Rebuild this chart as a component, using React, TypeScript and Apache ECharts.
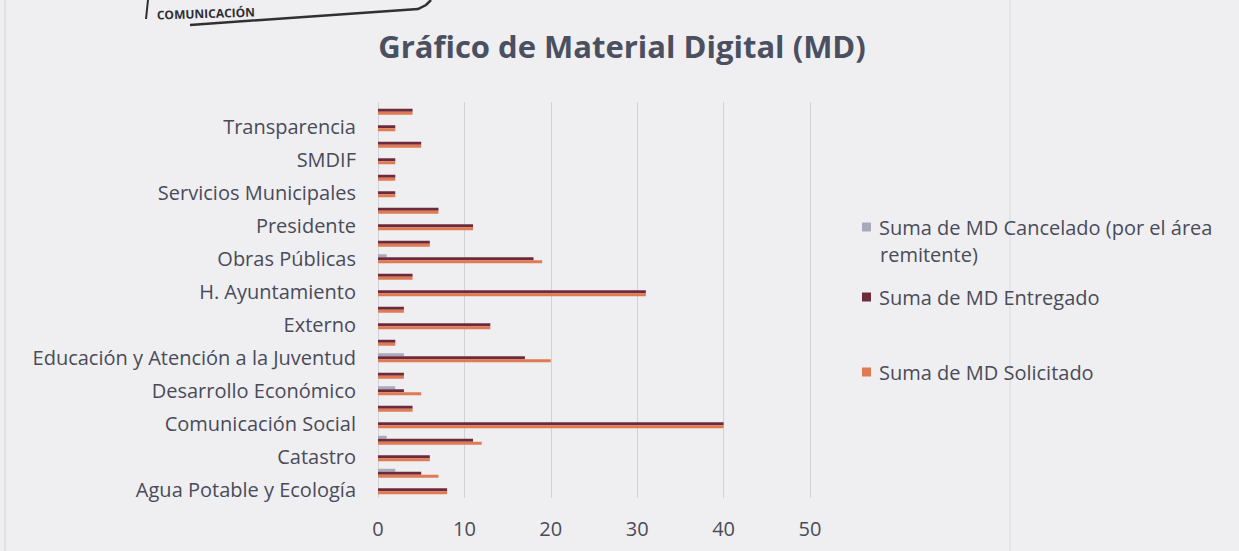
import React, { useEffect, useRef } from "react";
import * as echarts from "echarts";

const categories = [
  "Agua Potable y Ecología",
  "Atención Ciudadana",
  "Catastro",
  "Comercio",
  "Comunicación Social",
  "Contraloría",
  "Desarrollo Económico",
  "Desarrollo Social",
  "Educación y Atención a la Juventud",
  "Eventos Especiales",
  "Externo",
  "Gobierno",
  "H. Ayuntamiento",
  "Instituto de la Mujer",
  "Obras Públicas",
  "Planeación",
  "Presidente",
  "Seguridad Pública",
  "Servicios Municipales",
  "Sindicatura",
  "SMDIF",
  "Tesorería",
  "Transparencia",
  "Turismo",
];
const cancelado = [0, 2, 0, 1, 0, 0, 2, 0, 3, 0, 0, 0, 0, 0, 1, 0, 0, 0, 0, 0, 0, 0, 0, 0];
const entregado = [8, 5, 6, 11, 40, 4, 3, 3, 17, 2, 13, 3, 31, 4, 18, 6, 11, 7, 2, 2, 2, 5, 2, 4];
const solicitado = [8, 7, 6, 12, 40, 4, 5, 3, 20, 2, 13, 3, 31, 4, 19, 6, 11, 7, 2, 2, 2, 5, 2, 4];
const xTicks = { min: 0, max: 50, interval: 10 };

const seriesNames = [
  "Suma de MD Cancelado (por el área remitente)",
  "Suma de MD Entregado",
  "Suma de MD Solicitado",
];
const seriesColors = ["#a8aabb", "#6c2a3b", "#e07a52"];

const FONT = "'Open Sans', sans-serif";
const TXT = "#4a4b59";

export default function App() {
  const ref = useRef<HTMLDivElement>(null);
  useEffect(() => {
    if (!ref.current) return;
    const chart = echarts.init(ref.current, undefined, { renderer: "svg" });
    const dataSets = [cancelado, entregado, solicitado];
    const legendTops = [212, 282, 357];
    chart.setOption({
      animation: false,
      backgroundColor: "#efeff1",
      title: {
        text: "Gráfico de Material Digital (MD)",
        left: 617,
        textAlign: "center",
        top: 25,
        textStyle: { fontFamily: FONT, fontSize: 31, fontWeight: "bold", color: "#4b5061" },
      },
      legend: seriesNames.map((n, i) => ({
        data: [n],
        left: 857,
        top: legendTops[i],
        orient: "vertical",
        itemWidth: 9,
        itemHeight: 9,
        icon: "rect",
        formatter: (name: string) =>
          name.startsWith("Suma de MD Cancelado") ? "Suma de MD Cancelado (por el área" : name,
        textStyle: { fontFamily: FONT, fontSize: 20, color: TXT, padding: [0, 0, 0, 3] },
      })),
      grid: { left: 378, right: 429, top: 102, height: 396, containLabel: false },
      xAxis: {
        type: "value",
        min: xTicks.min,
        max: xTicks.max,
        interval: xTicks.interval,
        axisLine: { show: false },
        axisTick: { show: false },
        axisLabel: { fontFamily: FONT, fontSize: 20, color: TXT, margin: 20 },
        splitLine: { lineStyle: { color: "#d2d2d6", width: 1 } },
      },
      yAxis: {
        type: "category",
        data: categories,
        axisLine: { show: false },
        axisTick: { show: false },
        axisLabel: { interval: 1, fontFamily: FONT, fontSize: 20, color: TXT, margin: 22 },
        splitLine: { show: false },
      },
      series: seriesNames.map((n, i) => ({
        name: n,
        type: "bar",
        data: dataSets[i],
        barWidth: 3,
        barGap: "0%",
        itemStyle: { color: seriesColors[i] },
      })),
      graphic: [
        {
          type: "text",
          left: 880,
          top: 244,
          style: { text: "remitente)", fontFamily: FONT, fontSize: 20, fill: TXT },
        },
        {
          type: "line",
          shape: { x1: 1010, y1: 0, x2: 1010, y2: 551 },
          style: { stroke: "#dcdcdf", lineWidth: 1 },
        },
        {
          type: "line",
          shape: { x1: 5, y1: 0, x2: 5, y2: 551 },
          style: { stroke: "#d6d6da", lineWidth: 1 },
        },
        {
          type: "text",
          x: 157,
          y: 21,
          rotation: 0.03,
          style: {
            text: "COMUNICACIÓN",
            fontFamily: FONT,
            fontSize: 12,
            fontWeight: "bold",
            fill: "#2e2e33",
            textVerticalAlign: "bottom",
          },
        },
        {
          type: "polyline",
          shape: { points: [[190, 25], [418, 9], [426, 5], [431, 0]] },
          style: { stroke: "#303034", lineWidth: 2.5, fill: "none" },
        },
        {
          type: "line",
          shape: { x1: 148, y1: 0, x2: 146, y2: 19 },
          style: { stroke: "#303034", lineWidth: 2 },
        },
      ],
    });
    return () => chart.dispose();
  }, []);
  return (
    <div
      ref={ref}
      style={{ position: "absolute", left: 0, top: 0, width: 1239, height: 551 }}
    />
  );
}
